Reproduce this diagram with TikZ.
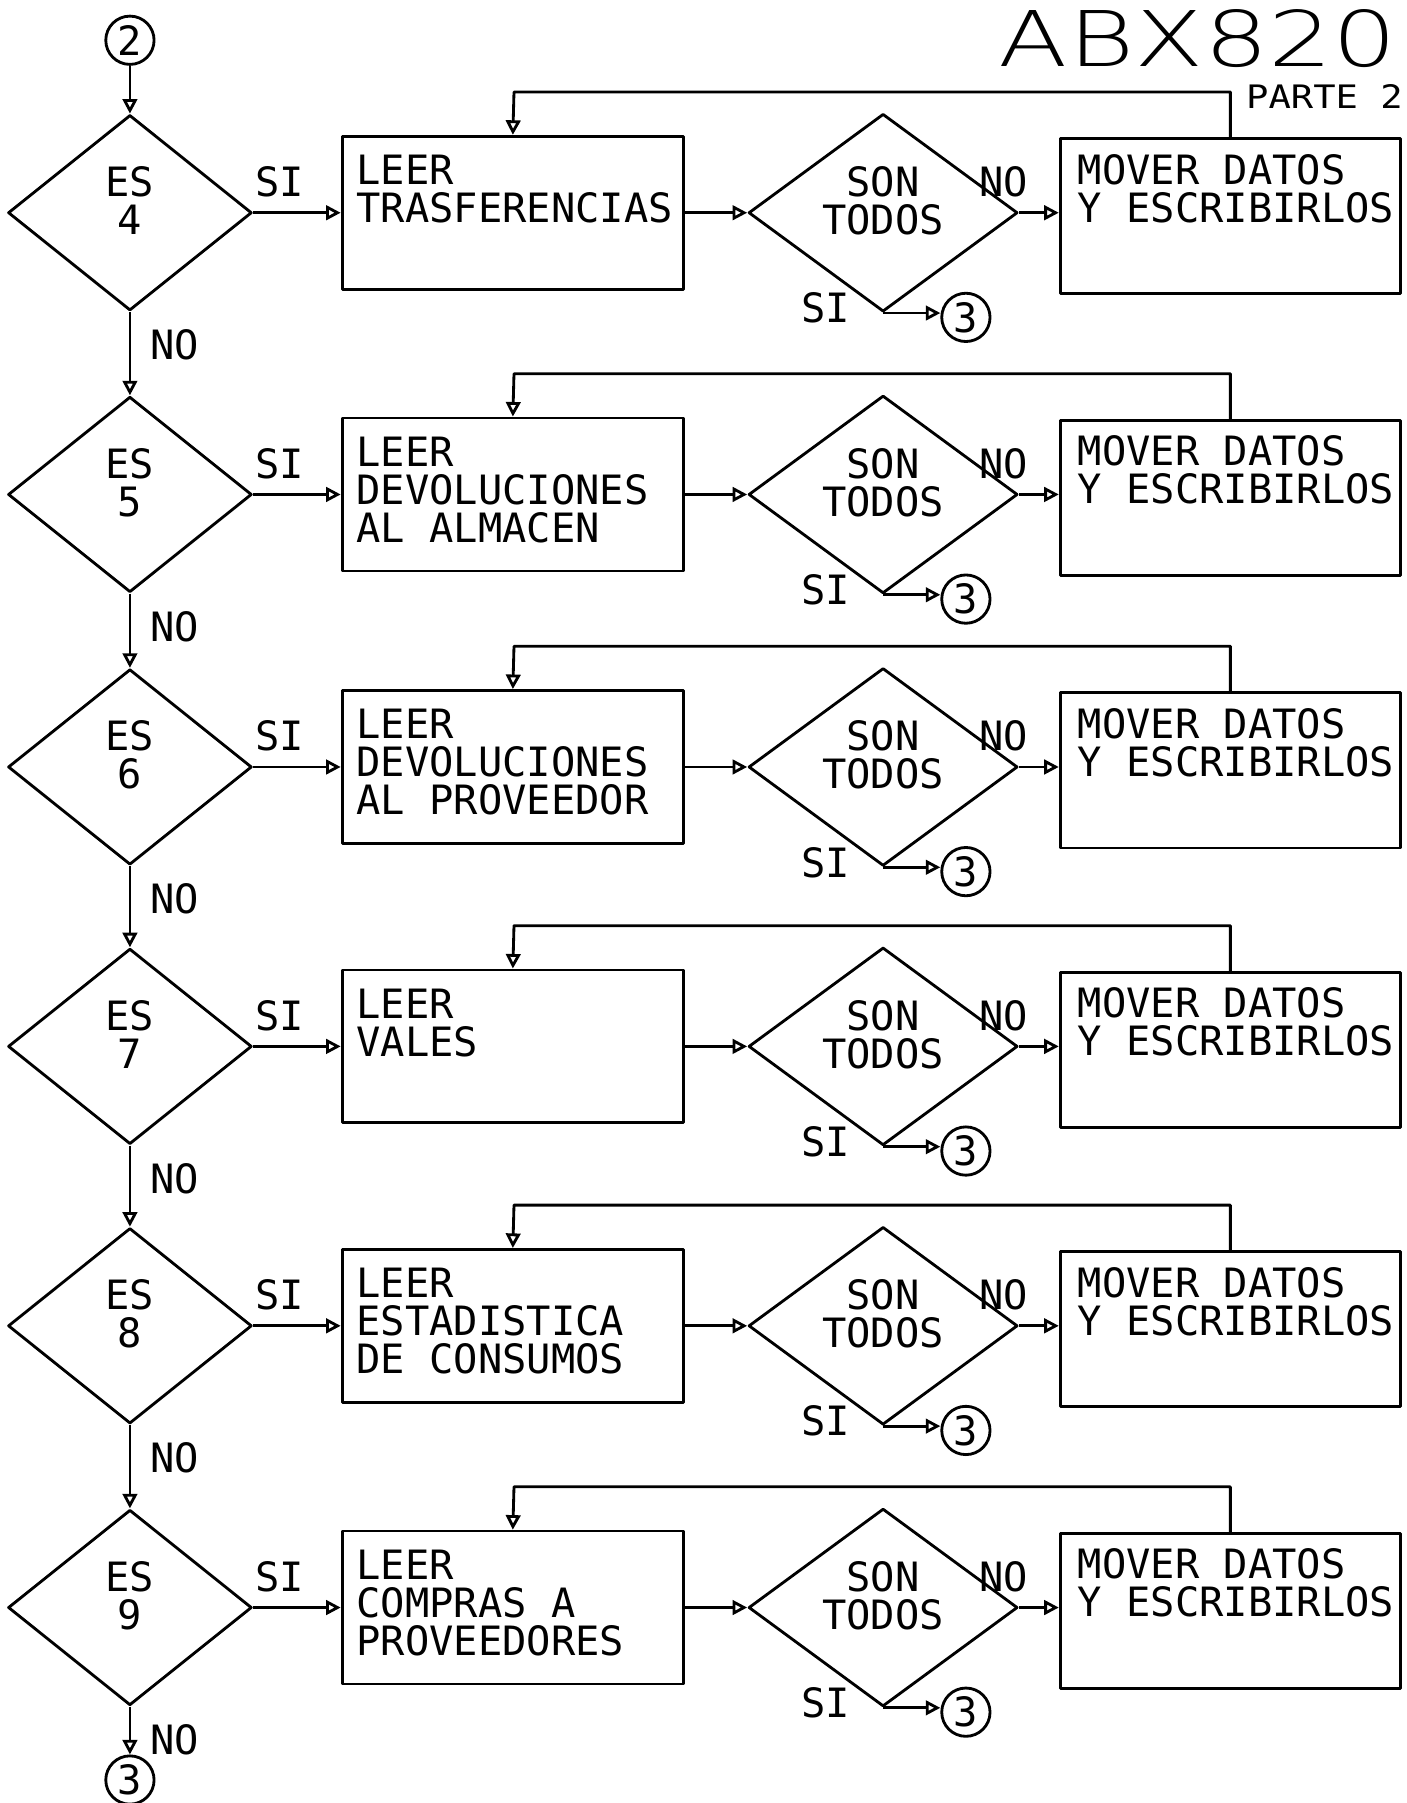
\documentclass[tikz,border=0pt]{standalone}
\usepackage{fontspec}
\newfontfamily\plotfont{DejaVu Sans Mono}
\newfontfamily\titlefont{DejaVu Sans ExtraLight}
\usetikzlibrary{arrows.meta,calc,shapes.geometric}

\begin{document}
\begin{tikzpicture}[x=0.1mm,y=-0.1mm,line join=round,
  every node/.style={font=\plotfont\fontsize{10}{9.4}\selectfont},
  wire/.style={line width=.7pt},
  flow/.style={wire,-{Triangle[open,length=3.6pt,width=3.6pt]}},
  esbox/.style={diamond,draw,wire,minimum width=21.2mm,minimum height=17mm,
    inner sep=0pt,aspect=1.25,align=center},
  sonbox/.style={diamond,draw,wire,minimum width=23.4mm,minimum height=17.2mm,
    inner sep=0pt,aspect=1.36,align=center},
  leerbox/.style={draw,wire,minimum width=29.7mm,minimum height=13.3mm},
  moverbox/.style={draw,wire,minimum width=29.6mm,minimum height=13.5mm},
  boxtext/.style={anchor=north west,align=left,inner sep=0pt},
  conn/.style={circle,draw,wire,minimum size=4.2mm,inner sep=0pt}]
  \useasboundingbox (0,0) rectangle (1223,1568);
  \node[anchor=base west,inner sep=0pt,text depth=0pt,
    font=\titlefont\fontsize{19}{19}\selectfont] (title) at (868,58)
    {\scalebox{1.32}[1]{ABX820}};
  \node[anchor=base west,inner sep=0pt,text depth=0pt,
    font=\plotfont\fontsize{8}{8}\selectfont] (parte) at (1083,94)
    {\scalebox{1.15}[1]{PARTE 2}};
  \node[conn] (start) at (113,35) {2};
  \foreach \nr/\yy/\txt in {4/185/{LEER\\TRASFERENCIAS},
      5/430/{LEER\\DEVOLUCIONES\\AL ALMACEN},
      6/667/{LEER\\DEVOLUCIONES\\AL PROVEEDOR},
      7/910/{LEER\\VALES},
      8/1153/{LEER\\ESTADISTICA\\DE CONSUMOS},
      9/1398/{LEER\\COMPRAS A\\PROVEEDORES}}{
    \node[esbox] (es\nr) at (113,\yy) {ES\\\nr\rule[-6pt]{0pt}{0pt}};
    \node (si\nr) at (243,\yy-27) {SI};
    \node (no\nr) at (152,\yy+115) {NO};
    \node[leerbox] (leer\nr) at (446,\yy) {};
    \node[boxtext] (leertxt\nr) at ([xshift=1.3mm,yshift=-1.7mm]leer\nr.north west) {\txt};
    \node[sonbox] (son\nr) at (768,\yy) {SON\\TODOS\rule[-6pt]{0pt}{0pt}};
    \node[moverbox] (mover\nr) at (1070,\yy+3) {};
    \node[boxtext] (movertxt\nr) at ([xshift=1.6mm,yshift=-1.4mm]mover\nr.north west)
      {MOVER DATOS\\Y ESCRIBIRLOS};
    \node (nd\nr) at (873,\yy-27) {NO};
    \node (sib\nr) at (718,\yy+83) {SI};
    \node[conn] (tres\nr) at (840,\yy+91) {3};
    \coordinate (back\nr) at (447,\yy-105);
    \draw[flow] (es\nr.east) -- (leer\nr.west);
    \draw[flow] (leer\nr.east) -- (son\nr.west);
    \draw[flow] (son\nr.east) -- (mover\nr.west |- son\nr.east);
    \draw[flow] (son\nr.south) -- (son\nr.south -| tres\nr.west);
    \draw[flow] (mover\nr.north) |- (back\nr) -- (leer\nr.north);
  }
  \draw[flow] (start) -- (es4.north);
  \foreach \a/\b in {4/5,5/6,6/7,7/8,8/9}
    \draw[flow] (es\a.south) -- (es\b.north);
  \node[conn] (fin) at (113,1548) {3};
  \draw[flow] (es9.south) -- (fin);
\end{tikzpicture}
\end{document}
